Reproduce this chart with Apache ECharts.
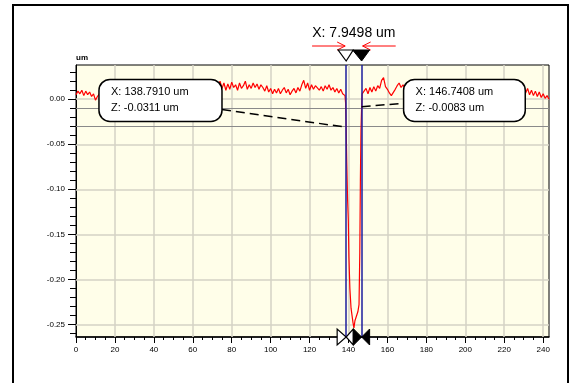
<!DOCTYPE html>
<html><head><meta charset="utf-8">
<script src="https://cdn.jsdelivr.net/npm/echarts@6/dist/echarts.min.js"></script>
<style>html,body{margin:0;padding:0;background:#fff}#c{width:578px;height:383px}</style>
</head><body><div id="c"></div>
<script>
// ---------- data ----------
const xTicks = [0, 20, 40, 60, 80, 100, 120, 140, 160, 180, 200, 220, 240];
const xMinorTicks = [5,10,15,25,30,35,45,50,55,65,70,75,85,90,95,105,110,115,125,130,135,145,150,155,165,170,175,185,190,195,205,210,215,225,230,235];
const yTicks = [-0.25, -0.20, -0.15, -0.10, -0.05, 0.00];
const yMinorTicks = [-0.26,-0.24,-0.23,-0.22,-0.21,-0.19,-0.18,-0.17,-0.16,-0.14,-0.13,-0.12,-0.11,-0.09,-0.08,-0.07,-0.06,-0.04,-0.03,-0.02,-0.01,0.01,0.02,0.03];
const yName = 'um';

// profile left of the trench, sampled every 1 um from x = 0
const leftStartX = 0;
const leftZ = [
  0.005, 0.009, 0.006, 0.010, 0.004, 0.009, 0.005, 0.008, 0.003, 0.006, -0.001, 0.003,
  0.006, 0.009, 0.011, 0.008, 0.012, 0.010, 0.013, 0.009, 0.011, 0.014,
  0.010, 0.012, 0.015, 0.011, 0.013, 0.009, 0.012, 0.014, 0.010, 0.013,
  0.016, 0.012, 0.010, 0.014, 0.011, 0.013, 0.015, 0.012, 0.009, 0.012,
  0.014, 0.011, 0.016, 0.013, 0.010, 0.012, 0.015, 0.011, 0.013, 0.010,
  0.014, 0.012, 0.009, 0.013, 0.015, 0.011, 0.012, 0.016, 0.013, 0.010,
  0.012, 0.014, 0.011, 0.015, 0.012, 0.010, 0.013, 0.016, 0.012, 0.014,
  0.018, 0.013,
  0.020, 0.012, 0.018, 0.010, 0.017, 0.011, 0.019, 0.013, 0.016, 0.010,
  0.018, 0.012, 0.015, 0.020, 0.011, 0.016, 0.012, 0.018, 0.013, 0.017,
  0.011, 0.016, 0.013, 0.009, 0.015, 0.008, 0.012, 0.006, 0.011, 0.007,
  0.012, 0.006, 0.010, 0.013, 0.007, 0.011, 0.005, 0.009, 0.012, 0.007,
  0.013, 0.009, 0.016, 0.021, 0.012, 0.018, 0.010, 0.016, 0.011, 0.015,
  0.017, 0.010, 0.014, 0.009, 0.015, 0.011, 0.016, 0.010, 0.013, 0.008,
  0.012, 0.007, 0.011, 0.006
];
// trench
const trenchX = [138.2, 138.5, 138.79, 139.1, 139.5, 139.9, 140.2, 140.7, 141.3, 141.8, 142.3, 142.8, 143.3, 144.0, 144.8, 145.4, 145.8, 146.1, 146.4, 146.74, 147.0];
const trenchZ = [0.004, -0.004, -0.0311, -0.07, -0.11, -0.135, -0.175, -0.21, -0.232, -0.24, -0.248, -0.254, -0.246, -0.244, -0.236, -0.228, -0.17, -0.09, -0.035, -0.0083, 0.006];
// profile right of the trench, sampled every 1 um from x = 148
const rightStartX = 148;
const rightZ = [
  0.007, 0.012, 0.006, 0.013, 0.008, 0.014, 0.009, 0.015, 0.012, 0.021,
  0.024, 0.014, 0.011, 0.007, 0.004, 0.003, 0.011, 0.015, 0.018,
  0.013, 0.016, 0.012, 0.018, 0.014, 0.017, 0.013, 0.019, 0.015, 0.012, 0.016, 0.020, 0.014, 0.017,
  0.013, 0.015, 0.018, 0.012, 0.016, 0.019, 0.014, 0.017, 0.013, 0.015,
  0.018, 0.014, 0.016, 0.012, 0.015, 0.013, 0.017, 0.011, 0.014, 0.012,
  0.015, 0.011, 0.013, 0.010, 0.014, 0.012, 0.009, 0.013, 0.011, 0.014,
  0.010, 0.012, 0.009, 0.013, 0.011, 0.008, 0.012, 0.010, 0.013, 0.009,
  0.011, 0.008, 0.012, 0.010, 0.007, 0.011, 0.009, 0.012, 0.008, 0.010,
  0.007, 0.012, 0.005, 0.010, 0.004, 0.009, 0.003, 0.008, 0.002, 0.006, 0.001, 0.004, 0.000
];
const cursorX = [138.7910, 146.7408];
const cursorZ = [-0.0311, -0.0083];
const deltaX = 7.9498;
const unit = 'um';

// ---------- build ----------
const profile = [];
leftZ.forEach((z, i) => profile.push([leftStartX + i, z]));
trenchX.forEach((x, i) => profile.push([x, trenchZ[i]]));
rightZ.forEach((z, i) => profile.push([rightStartX + i, z]));

const X_MIN = 0, X_MAX = 243, Y_MIN = -0.264, Y_MAX = 0.038;
const FONT = 'Liberation Sans';
const gridColor = '#d5d2c4';

const chart = echarts.init(document.getElementById('c'), null, {renderer: 'canvas'});
const option = {
  animation: false,
  backgroundColor: '#ffffff',
  grid: {left: 76, top: 65, width: 473, height: 272, show: true,
         backgroundColor: '#fffee9', borderColor: '#000', borderWidth: 1},
  xAxis: [{
    type: 'value', min: X_MIN, max: X_MAX, position: 'bottom',
    axisLine: {show: true, onZero: false, lineStyle: {color: '#000', width: 1.5}},
    axisTick: {show: true, customValues: xTicks, length: 6, lineStyle: {color: '#000'}},
    axisLabel: {customValues: xTicks, fontSize: 8, fontFamily: FONT, color: '#000', margin: 9},
    splitLine: {show: false}
  }, {
    type: 'value', min: X_MIN, max: X_MAX, position: 'bottom', offset: 0,
    axisLine: {show: false, onZero: false},
    axisTick: {show: true, customValues: xMinorTicks, length: 3, lineStyle: {color: '#000'}},
    axisLabel: {show: false}, splitLine: {show: false}
  }],
  yAxis: [{
    type: 'value', min: Y_MIN, max: Y_MAX, position: 'left',
    name: yName, nameLocation: 'end', nameGap: 3,
    nameTextStyle: {fontSize: 8, fontWeight: 'bold', fontFamily: FONT, color: '#000', align: 'left', verticalAlign: 'bottom'},
    axisLine: {show: true, onZero: false, lineStyle: {color: '#000', width: 1}},
    axisTick: {show: true, customValues: yTicks, length: 8, lineStyle: {color: '#000'}},
    axisLabel: {customValues: yTicks, formatter: v => (Math.abs(v) < 1e-9 ? 0 : v).toFixed(2),
                fontSize: 8, fontFamily: FONT, color: '#000', margin: 11},
    splitLine: {show: false}
  }, {
    type: 'value', min: Y_MIN, max: Y_MAX, position: 'left', offset: 0,
    axisLine: {show: false, onZero: false},
    axisTick: {show: true, customValues: yMinorTicks, length: 6, lineStyle: {color: '#000'}},
    axisLabel: {show: false}, splitLine: {show: false}
  }],
  series: [
    { // grid lines
      type: 'line', data: [], xAxisIndex: 0, yAxisIndex: 0, z: 1,
      markLine: {silent: true, symbol: ['none', 'none'], z: 1, animation: false,
        label: {show: false},
        lineStyle: {color: gridColor, width: 1.5, type: 'solid'},
        data: yTicks.map(v => ({yAxis: v})).concat(xTicks.slice(1).map(v => ({xAxis: v})))
      }
    },
    { // cursor horizontal levels
      type: 'line', data: [], xAxisIndex: 0, yAxisIndex: 0, z: 2,
      markLine: {silent: true, symbol: ['none', 'none'], z: 2, animation: false,
        label: {show: false},
        lineStyle: {color: '#8a8a8a', width: 1, type: 'solid'},
        data: cursorZ.map(v => ({yAxis: v}))
      }
    },
    { // profile
      type: 'line', data: profile, xAxisIndex: 0, yAxisIndex: 0, z: 3,
      showSymbol: false, symbol: 'none', smooth: false,
      lineStyle: {color: '#ff0000', width: 1.2}
    },
    { // cursors and leader lines
      type: 'line', data: [], xAxisIndex: 0, yAxisIndex: 0, z: 4,
      markLine: {silent: true, symbol: ['none', 'none'], z: 4, animation: false,
        label: {show: false},
        data: [
          {xAxis: cursorX[0], lineStyle: {color: '#1c1c9c', width: 1.5, type: 'solid'}},
          {xAxis: cursorX[1], lineStyle: {color: '#1c1c9c', width: 1.5, type: 'solid'}},
          [{coord: [75.0, -0.0115], lineStyle: {color: '#000', width: 1.5, type: [9, 5]}}, {coord: [cursorX[0], cursorZ[0]]}],
          [{coord: [cursorX[1], cursorZ[1]], lineStyle: {color: '#000', width: 1.5, type: [9, 5]}}, {coord: [168.3, -0.0045]}]
        ]
      }
    }
  ]
};
chart.setOption(option);

// ---------- annotations ----------
const P = (x, y) => chart.convertToPixel({xAxisIndex: 0, yAxisIndex: 0}, [x, y]);
const g = [];
g.push({type: 'rect', z: 100, shape: {x: 13, y: 5, width: 555, height: 400},
        style: {fill: 'none', stroke: '#000', lineWidth: 2}, silent: true});

function callout(x0, x1, lines) {
  const a = P(x0, 0.022), b = P(x1, -0.0248);
  g.push({type: 'rect', z: 50, shape: {x: a[0], y: a[1], width: b[0] - a[0], height: b[1] - a[1], r: 11},
          style: {fill: '#fff', stroke: '#000', lineWidth: 1.5}});
  lines.forEach((t, i) => g.push({type: 'text', z: 51, x: a[0] + 12, y: a[1] + 13 + i * 16,
     style: {text: t, fontSize: 11, fontFamily: FONT, fill: '#000', verticalAlign: 'middle', align: 'left'}}));
}
callout(11.8, 75.0, ['X: ' + cursorX[0].toFixed(4) + ' ' + unit, 'Z: ' + cursorZ[0].toFixed(4) + ' ' + unit]);
callout(168.3, 230.8, ['X: ' + cursorX[1].toFixed(4) + ' ' + unit, 'Z: ' + cursorZ[1].toFixed(4) + ' ' + unit]);

const c0 = P(cursorX[0], Y_MAX), c1 = P(cursorX[1], Y_MAX);
const topY = c0[1];
const botY = P(cursorX[0], Y_MIN)[1];
const mid = (c0[0] + c1[0]) / 2;
g.push({type: 'text', z: 60, x: mid, y: topY - 32,
        style: {text: 'X: ' + deltaX.toFixed(4) + ' ' + unit, fontSize: 14, fontFamily: FONT, fill: '#000', align: 'center', verticalAlign: 'middle'}});
// arrows
const ay = topY - 19;
const la = P(cursorX[0] - 17.5, 0)[0], ra = P(cursorX[1] + 17.5, 0)[0];
g.push({type: 'line', z: 60, shape: {x1: la, y1: ay, x2: c0[0] - 1, y2: ay}, style: {stroke: '#ff0000', lineWidth: 1}});
g.push({type: 'polyline', z: 60, shape: {points: [[c0[0] - 9, ay - 4], [c0[0] - 1, ay], [c0[0] - 9, ay + 4]]}, style: {stroke: '#ff0000', lineWidth: 1, fill: 'none'}});
g.push({type: 'line', z: 60, shape: {x1: ra, y1: ay, x2: c1[0] + 1, y2: ay}, style: {stroke: '#ff0000', lineWidth: 1}});
g.push({type: 'polyline', z: 60, shape: {points: [[c1[0] + 9, ay - 4], [c1[0] + 1, ay], [c1[0] + 9, ay + 4]]}, style: {stroke: '#ff0000', lineWidth: 1, fill: 'none'}});
// top triangles
g.push({type: 'polygon', z: 60, shape: {points: [[c0[0] - 8, topY - 15], [c0[0] + 7, topY - 15], [c0[0], topY - 4]]}, style: {fill: '#fff', stroke: '#000', lineWidth: 1.2}});
g.push({type: 'polygon', z: 60, shape: {points: [[c1[0] - 9, topY - 15], [c1[0] + 8, topY - 15], [c1[0], topY - 4]]}, style: {fill: '#000', stroke: '#000', lineWidth: 1}});
// bottom bow-ties
g.push({type: 'polygon', z: 60, shape: {points: [[c0[0] - 9, botY - 8], [c0[0] - 9, botY + 8], [c0[0], botY]]}, style: {fill: '#fff', stroke: '#000', lineWidth: 1.2}});
g.push({type: 'polygon', z: 60, shape: {points: [[c0[0] + 7, botY - 8], [c0[0] + 7, botY + 8], [c0[0], botY]]}, style: {fill: '#fff', stroke: '#000', lineWidth: 1.2}});
g.push({type: 'polygon', z: 60, shape: {points: [[c1[0] - 8, botY - 8], [c1[0] - 8, botY + 8], [c1[0], botY]]}, style: {fill: '#000', stroke: '#000', lineWidth: 1}});
g.push({type: 'polygon', z: 60, shape: {points: [[c1[0] + 8, botY - 8], [c1[0] + 8, botY + 8], [c1[0], botY]]}, style: {fill: '#000', stroke: '#000', lineWidth: 1}});

chart.setOption({graphic: g});
</script></body></html>
